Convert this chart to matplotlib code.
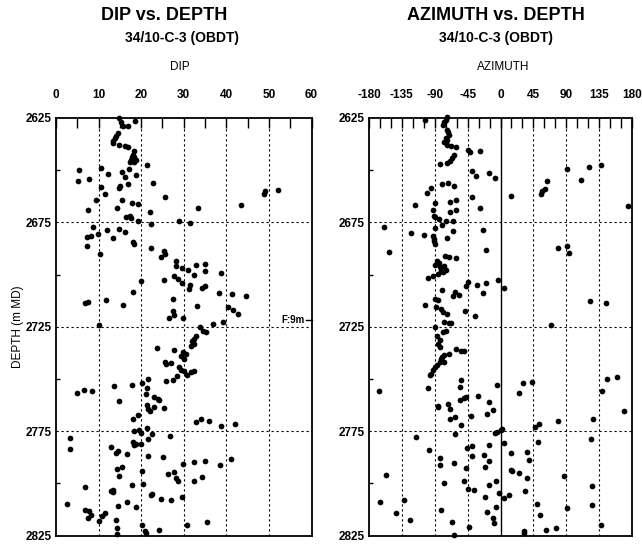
import matplotlib
matplotlib.use("Agg")
import matplotlib.pyplot as plt
from matplotlib.ticker import MultipleLocator
import numpy as np

plt.rcParams['font.family'] = ['Liberation Sans', 'DejaVu Sans']

# ---------------- data ----------------
dip_values = [14.9, 18.6, 15.7, 16.9, 14.5, 14.1, 13.5, 13.3, 14.9, 16.1, 16.9,
              18.4, 18.0, 17.6, 17.3, 18.2, 18.7, 5.5, 5.1, 7.8, 10.6, 12.2, 15.5,
              17.1, 18.8, 16.3, 21.3, 22.7, 16.9, 14.9, 15.1, 10.6, 11.4, 9.3, 15.5,
              17.9, 19.2, 14.4, 7.5, 22.0, 25.5, 33.3, 43.5, 48.8, 49.0, 52.2,
              16.5, 17.3, 17.6, 19.2, 22.4, 28.9, 31.5, 8.8, 12.0, 14.9, 16.3, 9.8,
              8.2, 7.3, 13.5, 18.0, 18.3, 7.2, 22.2, 10.4, 25.3, 25.7, 24.7, 28.1,
              28.2, 29.6, 31.0, 32.8, 34.9, 35.0, 32.4, 38.8, 27.8, 28.6, 25.3, 20.0,
              29.6, 31.4, 31.2, 34.4, 35.1, 18.0, 38.2, 41.4, 44.7, 6.7, 7.5, 11.8,
              15.8, 27.5, 33.1, 40.4, 41.6, 42.7, 27.5, 27.8, 26.5, 29.8,
              10.2, 36.9, 39.1, 33.7, 34.5, 35.3, 32.9, 32.5, 32.3, 31.8, 29.8, 29.4,
              30.0, 30.6, 23.7, 27.6, 25.7, 25.9, 27.1, 28.9, 29.4, 30.0, 30.8, 31.8,
              32.3, 25.9, 27.5, 28.5, 21.6, 20.2, 17.8, 13.7, 21.3, 4.9, 6.5, 8.4,
              14.7, 21.2, 23.1, 23.9, 24.1, 21.3, 21.7, 22.0, 23.1, 25.3, 18.0, 19.2,
              32.8, 34.0, 35.9, 38.8, 42.0, 18.3, 19.6, 20.0, 21.3, 22.5, 26.7, 3.3,
              3.3, 18.0, 18.4, 18.8, 20.0, 21.7, 12.9, 14.1, 14.5, 16.6, 21.6, 25.1,
              29.8, 32.3, 34.9, 38.4, 41.0, 14.3, 15.5, 14.9, 20.2, 26.3, 27.6, 28.2,
              28.6, 32.5, 34.3, 6.9, 17.9, 20.5, 13.3, 12.9, 13.5, 22.4, 22.6, 24.7,
              27.1, 29.6, 2.5, 14.5, 16.6, 18.8, 6.7, 7.8, 8.2, 7.5, 11.4, 10.8,
              10.2, 14.0, 14.3, 14.3, 30.8, 35.5, 20.2, 21.0, 21.2, 24.1,
              15.2, 18.2, 13.9, 17.8, 32.0]
dip_depths = [2625.0, 2626.3, 2629.0, 2629.0, 2632.0, 2633.7, 2636.0, 2637.0, 2637.7,
              2638.4, 2639.0, 2641.0, 2642.5, 2645.0, 2646.0, 2646.0, 2645.2, 2650.0,
              2655.0, 2654.4, 2648.8, 2651.7, 2650.9, 2649.6, 2652.3, 2653.3, 2647.7,
              2656.0, 2656.4, 2658.7, 2657.5, 2658.0, 2661.5, 2664.2, 2664.4, 2665.5,
              2666.3, 2667.9, 2669.0, 2669.8, 2662.8, 2668.3, 2666.7, 2661.5, 2660.2,
              2659.3, 2672.3, 2671.8, 2672.9, 2674.2, 2676.0, 2674.5, 2675.5, 2677.4,
              2678.7, 2678.2, 2679.8, 2680.6, 2681.3, 2682.0, 2682.6, 2684.5, 2685.3,
              2686.4, 2687.4, 2690.0, 2688.8, 2690.0, 2691.7, 2693.3, 2696.0, 2696.7,
              2697.7, 2695.3, 2694.8, 2698.5, 2700.0, 2699.3, 2700.7, 2702.0, 2702.8,
              2703.3, 2704.0, 2704.8, 2706.7, 2706.4, 2705.6, 2708.2, 2708.8, 2709.4,
              2710.4, 2713.4, 2713.1, 2712.3, 2714.7, 2711.5, 2715.0, 2715.5, 2717.0,
              2718.7, 2717.4, 2719.4, 2720.7, 2721.0,
              2724.0, 2723.7, 2722.5, 2725.3, 2727.2, 2727.7, 2729.3, 2730.9, 2733.3,
              2734.0, 2737.2, 2738.8, 2740.4, 2738.0, 2735.3, 2736.1, 2742.0, 2743.0,
              2742.3, 2744.4, 2745.6, 2746.4, 2747.9, 2746.7, 2746.3, 2751.0, 2750.4,
              2748.8, 2750.0, 2752.0, 2752.8, 2753.6, 2754.4, 2756.7, 2755.2, 2756.0,
              2760.7, 2757.4, 2758.7, 2759.4, 2760.2, 2762.6, 2764.2, 2765.5, 2763.4,
              2763.7, 2769.0, 2767.4, 2770.6, 2769.3, 2770.0, 2772.6, 2771.7, 2775.0,
              2774.5, 2775.8, 2773.3, 2776.6, 2777.4, 2778.2, 2783.6, 2780.0, 2781.7,
              2781.2, 2781.2, 2779.0, 2782.8, 2785.3, 2784.4, 2786.1, 2786.9, 2787.5,
              2790.7, 2789.9, 2789.3, 2791.2, 2788.5, 2793.3, 2792.3, 2796.3, 2794.0,
              2795.5, 2794.7, 2797.5, 2799.1, 2798.7, 2797.0, 2802.0, 2801.0, 2800.2,
              2803.4, 2803.9, 2804.4, 2805.5, 2805.0, 2807.4, 2808.2, 2806.6, 2809.8,
              2810.7, 2809.0, 2811.5, 2812.6, 2813.4, 2815.0, 2816.6, 2814.0, 2815.6,
              2817.9, 2817.5, 2821.3, 2824.5, 2819.8, 2818.5, 2820.2, 2823.0, 2823.7,
              2822.4,
              2627.0, 2643.5, 2634.8, 2643.8, 2731.8]

azi_values = [-104, -73.2, -76.8, -78.7, -73.2, -70.9, -74.0, -76.8, -73.2, -67.7, -60.8,
              -44.4, -41.2, -28.4, -64, -66.3, -68.6, -73.2, -83.2, -38.9, -32.9, -16,
              -8.2, 91.5, 121.2, 137.2, 109.8, 64, 54.9, 57.2, 60.4, 13.7, -80, -71.8,
              -64, -94.7, -100.6, -38.9, -89.2, -69.5, -60.4, -117.5, -27.4, -92.4,
              -60.4, -69.5, -91.5, -89.2, -84.6, -74.1, -80, -65, 174.7, -160, -122.5,
              -89.2, -104.3, -65, -23.8, -73.2, -92.4, -91.5, -89.2, -90.6, -153,
              -19.7, 78.7, 91.5, 93.8, -75.5, -70.9, -60.4, -86.9, -90.1, -83.2, -76.8,
              -74.1, -78.7, -86, -92.4, -99.7, -44.8, -46.6, -32, -19.2, -3.2, 4.6,
              -79.6, -61.7, -64.9, -57.2, -23.8, -89.2, -86, -102.9, 122.6, 145,
              -87.8, -81.4, -78.7, -73.2, -48, -34.3,
              -76.8, -70.9, -67.7, 68.6, -89.2, -78.7, -74.1, -86.9, -82.3, -86, -83.2,
              -60.4, -54, -49.4, -70.9, -77.7, -81.4, -83.2, -86.9, -89.2, -92.4, -95.1,
              -96, -76.8, -54, -54.9, -4.6, 30.6, 43.4, 25.2, 146.3, 160, 138.6, -166.9,
              -99.7, -31.1, -54.9, -50.3, -46.6, -16, -85.5, -86, -72.3, -69.5, -10.5,
              -18.3, -40.2, -69.5, -61.7, -53.5, 169.2, 127.1, 52.6, 46.6, 79.1, -7.8,
              -4.6, 0, 2.3, -62.7, -115.7, 51.2, 124.4, 4.6, -16, -45.7, -38.9, -98.3,
              13.7, -83.2, -83.2, -64, -38.9, -22, -16, -20.6, 36.6, 38.9, -46.6, 13.7,
              16, 25.2, 36.6, 86.9, -156.4, -77.7, -49.4, -5.9, -16, -44.4, -36.6,
              32.9, -1.4, 4.6, 12.3, -20.6, -165.5, -132.6, 124.8, 124.8, 49.4, 91.5,
              -5.5, -81, -142.7, -18.3, 53.5, -10.5, -9.1, -123.5, -66.3, 137.2,
              -43.4, 32, 32, 61.7, 75.5, -63.1,
              -75.0, -72.0, -73.0, -81.0, -84.0, -80.0]
azi_depths = [2625.8, 2624.7, 2627.0, 2628.5, 2630.6, 2633.0, 2634.8, 2636.4, 2637.7,
              2638.5, 2639.0, 2640.1, 2641.2, 2640.9, 2642.5, 2644.0, 2645.6, 2646.4,
              2647.2, 2650.4, 2652.8, 2651.2, 2653.6, 2649.6, 2648.5, 2647.7, 2654.5,
              2655.2, 2661.2, 2659.9, 2659.1, 2662.5, 2656.7, 2656.0, 2657.5, 2658.7,
              2661.0, 2663.0, 2665.5, 2665.0, 2664.2, 2666.6, 2667.9, 2669.0, 2669.1,
              2670.2, 2671.8, 2672.6, 2673.4, 2674.2, 2676.1, 2674.5, 2667.2, 2677.0,
              2680.2, 2677.7, 2680.9, 2679.3, 2678.7, 2682.5, 2681.3, 2683.7, 2685.3,
              2682.9, 2689.1, 2688.0, 2687.2, 2686.4, 2689.8, 2690.9, 2691.7, 2692.1,
              2693.6, 2695.2, 2696.4, 2696.0, 2697.7, 2699.0, 2699.9, 2700.9, 2701.7,
              2703.6, 2705.6, 2704.8, 2704.0, 2702.5, 2706.4, 2707.5, 2708.3, 2710.4,
              2709.9, 2708.8, 2711.8, 2712.3, 2714.4, 2712.8, 2713.6, 2715.5, 2716.7,
              2717.9, 2719.1, 2717.4, 2719.9,
              2722.5, 2723.0, 2723.0, 2724.2, 2725.3, 2727.7, 2727.2, 2729.3, 2731.3,
              2733.2, 2734.8, 2735.6, 2736.7, 2736.4, 2737.9, 2738.7, 2740.3, 2741.9,
              2743.5, 2744.2, 2745.8, 2747.7, 2748.2, 2741.9, 2750.6, 2754.0, 2752.9,
              2752.1, 2751.3, 2756.9, 2749.8, 2749.0, 2755.8, 2755.6, 2754.5, 2758.0,
              2760.0, 2759.2, 2758.8, 2761.1, 2762.9, 2763.5, 2761.9, 2764.3, 2765.1,
              2766.6, 2767.6, 2769.0, 2768.2, 2772.0, 2765.5, 2769.2, 2771.5, 2772.9,
              2770.3, 2776.1, 2775.5, 2774.5, 2774.2, 2776.6, 2777.7, 2780.0, 2778.9,
              2780.8, 2781.6, 2782.9, 2782.1, 2784.0, 2785.6, 2788.0, 2791.1, 2790.3,
              2787.1, 2786.4, 2789.5, 2792.0, 2784.9, 2788.9, 2792.8, 2793.6, 2794.1,
              2795.0, 2797.6, 2796.6, 2796.0, 2799.9, 2799.1, 2798.7, 2800.7, 2802.6,
              2803.1, 2803.9, 2804.7, 2807.0, 2805.4, 2806.4, 2808.9, 2808.1, 2801.5,
              2810.2, 2809.7, 2811.8, 2811.3, 2812.9, 2814.4, 2813.6, 2815.2, 2816.8,
              2818.8, 2817.6, 2818.4, 2820.0, 2820.7, 2822.8, 2823.9, 2822.3, 2821.5,
              2824.7,
              2626.0, 2631.8, 2635.6, 2698.3, 2694.4, 2739.5]

depth_ticks = [2625, 2675, 2725, 2775, 2825]
dip_ticks = [0, 10, 20, 30, 40, 50, 60]
azi_ticks = [-180, -135, -90, -45, 0, 45, 90, 135, 180]

# ---------------- figure ----------------
W, H = 642, 545
fig = plt.figure(figsize=(W / 100, H / 100), dpi=100)


def ax_rect(x0, x1, y0, y1):
    return [x0 / W, 1 - y1 / H, (x1 - x0) / W, (y1 - y0) / H]


ax1 = fig.add_axes(ax_rect(56, 311.5, 118, 535.5))
ax2 = fig.add_axes(ax_rect(369, 632, 118, 535.5))

grid_kw = dict(color='black', lw=0.8, ls=(0, (2, 2.5)))

for ax, xs, ys, xt, minor in ((ax1, dip_values, dip_depths, dip_ticks, 5),
                              (ax2, azi_values, azi_depths, azi_ticks, 15)):
    ax.scatter(xs, ys, s=17, c='black', linewidths=0, zorder=3, clip_on=False)
    ax.set_xlim(xt[0], xt[-1])
    ax.set_ylim(2825, 2625)
    ax.xaxis.set_ticks_position('top')
    ax.xaxis.set_label_position('top')
    ax.set_xticks(xt)
    ax.set_xticklabels([str(t) for t in xt], fontsize=8.5, fontweight='bold')
    ax.xaxis.set_minor_locator(MultipleLocator(minor))
    ax.tick_params(axis='x', which='both', direction='in', length=7, width=1,
                   pad=12)
    ax.set_yticks(depth_ticks)
    ax.set_yticklabels([str(t) for t in depth_ticks], fontsize=8.5,
                       fontweight='bold')
    ax.yaxis.set_minor_locator(MultipleLocator(25))
    ax.tick_params(axis='y', which='major', length=0, pad=3)
    ax.tick_params(axis='y', which='minor', direction='in', length=3, width=1)
    for d in depth_ticks[1:-1]:
        ax.axhline(d, zorder=1, **grid_kw)
    for t in xt[1:-1]:
        if ax is ax2 and t == 0:
            ax.axvline(0, color='black', lw=1.0, zorder=1)
        else:
            ax.axvline(t, zorder=1, **grid_kw)
    for sp in ax.spines.values():
        sp.set_linewidth(1.3)

ax1.set_ylabel('DEPTH (m MD)', fontsize=8.5, labelpad=1)

# fault annotation
ax1.text(58.3, 2722, 'F:9m', fontsize=7, fontweight='bold', ha='right',
         va='center')
ax1.plot([58.8, 60], [2722, 2722], color='black', lw=1, clip_on=False)

# titles
def ftext(x, y, s, **kw):
    fig.text(x / W, 1 - y / H, s, ha='center', va='center', **kw)

ftext(164, 15, 'DIP vs. DEPTH', fontsize=13, fontweight='bold')
ftext(182, 38, '34/10-C-3 (OBDT)', fontsize=10, fontweight='bold')
ftext(180, 67, 'DIP', fontsize=8.5)
ftext(496, 15, 'AZIMUTH vs. DEPTH', fontsize=13, fontweight='bold')
ftext(496, 38, '34/10-C-3 (OBDT)', fontsize=10, fontweight='bold')
ftext(503, 67, 'AZIMUTH', fontsize=8.5)

fig.savefig('out.png', dpi=100)
